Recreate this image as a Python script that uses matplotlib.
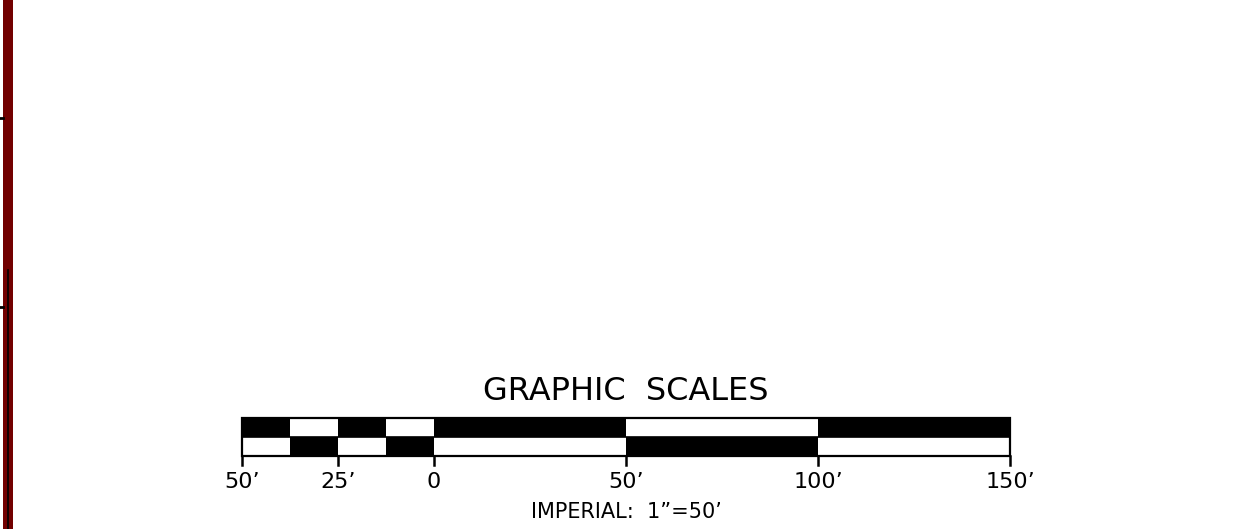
import matplotlib
matplotlib.use("Agg")
import matplotlib.pyplot as plt
from matplotlib.patches import Rectangle

# scale bar data (feet)
edges = [-50, -37.5, -25, -12.5, 0, 50, 100, 150]
top_fill = [1, 0, 1, 0, 1, 0, 1]      # 1 = black
bottom_fill = [0, 1, 0, 1, 0, 1, 0]
tick_values = [-50, -25, 0, 50, 100, 150]
tick_labels = ["50\u2019", "25\u2019", "0", "50\u2019", "100\u2019", "150\u2019"]
title = "GRAPHIC  SCALES"
subtitle = "IMPERIAL:  1\u201d=50\u2019"

W, H = 1243, 529
fig = plt.figure(figsize=(W / 100, H / 100), dpi=100)
ax = fig.add_axes([0, 0, 1, 1])
px_per_ft = 3.84
x0_px = 242
ax.set_xlim(-50 - x0_px / px_per_ft, -50 + (W - x0_px) / px_per_ft)
ax.set_ylim(H, 0)
ax.axis("off")

y_top, y_mid, y_bot = 418, 437, 456

for i in range(len(edges) - 1):
    w = edges[i + 1] - edges[i]
    ax.add_patch(Rectangle((edges[i], y_top), w, y_mid - y_top,
                           facecolor="black" if top_fill[i] else "white",
                           edgecolor="none"))
    ax.add_patch(Rectangle((edges[i], y_mid), w, y_bot - y_mid,
                           facecolor="black" if bottom_fill[i] else "white",
                           edgecolor="none"))

# outline
ax.add_patch(Rectangle((edges[0], y_top), edges[-1] - edges[0], y_bot - y_top,
                       facecolor="none", edgecolor="black", lw=1.6))
ax.plot([edges[0], edges[-1]], [y_mid, y_mid], color="black", lw=1.2)

for v, lab in zip(tick_values, tick_labels):
    ax.plot([v, v], [y_bot, 465], color="black", lw=1.8)
    ax.text(v, 482, lab, ha="center", va="center", fontsize=16,
            family="DejaVu Sans")

mid = (edges[0] + edges[-1]) / 2
ax.text(mid, 391, title, ha="center", va="center", fontsize=23)
ax.text(mid, 512, subtitle, ha="center", va="center", fontsize=15)

# left border strip
fig.patches.append(Rectangle((3 / W, 0), 10 / W, 1, transform=fig.transFigure,
                             facecolor="#720000", edgecolor="none"))
fig.lines.append(plt.Line2D([7.5 / W, 7.5 / W], [0, 1 - 270 / H],
                            transform=fig.transFigure, color="black", lw=1.2))
for yy in (118, 307):
    fig.lines.append(plt.Line2D([0, 3 / W], [1 - yy / H, 1 - yy / H],
                                transform=fig.transFigure, color="black", lw=2))

fig.savefig("out.png", dpi=100)
